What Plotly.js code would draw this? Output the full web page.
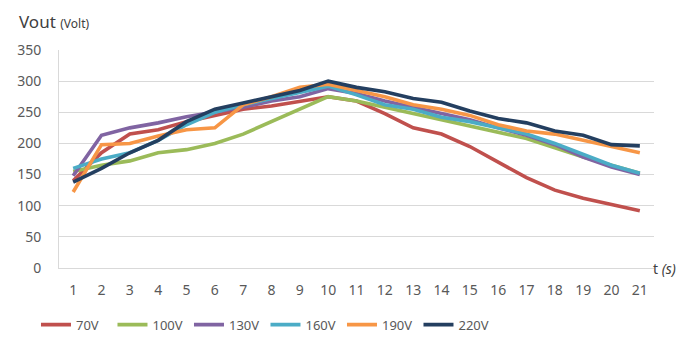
<!DOCTYPE html>
<html>
<head>
<meta charset="utf-8">
<script src="https://cdn.plot.ly/plotly-3.0.1.min.js"></script>
<style>html,body{margin:0;padding:0;background:#fff;}#chart{width:679px;height:340px;}</style>
</head>
<body>
<div id="chart"></div>
<script>
const tValues = [1,2,3,4,5,6,7,8,9,10,11,12,13,14,15,16,17,18,19,20,21];
const seriesNames = ["70V","100V","130V","160V","190V","220V"];
const v70  = [140,185,215,222,235,245,255,260,268,275,268,248,225,215,195,170,145,125,112,102,92];
const v100 = [155,165,172,185,190,200,215,235,255,275,268,258,248,238,228,218,208,193,178,165,152];
const v130 = [148,213,225,233,243,250,258,268,275,288,280,268,258,248,238,225,213,198,178,162,150];
const v160 = [160,175,185,205,230,250,262,272,282,292,278,262,255,242,235,225,215,200,182,165,152];
const v190 = [122,198,200,212,222,225,262,275,290,295,285,275,262,255,245,230,220,215,205,195,185];
const v220 = [138,160,185,205,235,255,265,275,285,300,290,283,272,266,252,240,233,220,213,198,196];
const seriesValues = [v70,v100,v130,v160,v190,v220];
const colors = ["#C0504D","#9BBB59","#8064A2","#4BACC6","#F79646","#243F60"];

const traces = seriesNames.map((n,i)=>({
  x: tValues, y: seriesValues[i], name: n, type: "scatter", mode: "lines",
  line: {color: colors[i], width: 3.6}
}));

const font = {family: "Noto Sans, sans-serif", color: "#595959", size: 14};
const layout = {
  width: 679, height: 340,
  margin: {l: 59, r: 25, t: 50, b: 72},
  paper_bgcolor: "#fff", plot_bgcolor: "#fff",
  font: font,
  showlegend: true,
  legend: {orientation: "h", xref: "container", yref: "container", x: 0.053, y: 0.045,
           xanchor: "left", yanchor: "middle", entrywidth: 31.5, entrywidthmode: "pixels",
           font: {family: "Noto Sans, sans-serif", color: "#595959", size: 13}, itemwidth: 30},
  xaxis: {range: [0.5, 21.5], tickvals: tValues, ticktext: tValues.map(String), showgrid: false,
          zeroline: false, showline: true, linecolor: "#D9D9D9", linewidth: 1, ticks: "",
          tickfont: font, ticklabelstandoff: 9, fixedrange: true},
  yaxis: {range: [0, 350], tickvals: [0,50,100,150,200,250,300,350], showgrid: true, gridcolor: "#D9D9D9",
          zeroline: false, showline: true, linecolor: "#D9D9D9", ticks: "", ticklen: 0,
          tickfont: font, ticklabelstandoff: 14, fixedrange: true},
  annotations: [
    {text: "Vout <span style='font-size:12px'>(Volt)</span>", xref: "paper", yref: "paper",
     x: -0.0706, y: 1.133, xanchor: "left", yanchor: "middle", showarrow: false,
     font: {family: "Noto Sans, sans-serif", color: "#404040", size: 17}},
    {text: "t <i>(s)</i>", xref: "paper", yref: "paper", x: 0.995, y: 0, xanchor: "left", yanchor: "middle",
     showarrow: false, font: {family: "Noto Sans, sans-serif", color: "#404040", size: 14}}
  ]
};
Plotly.newPlot("chart", traces, layout, {displayModeBar: false, staticPlot: true});
</script>
</body>
</html>
